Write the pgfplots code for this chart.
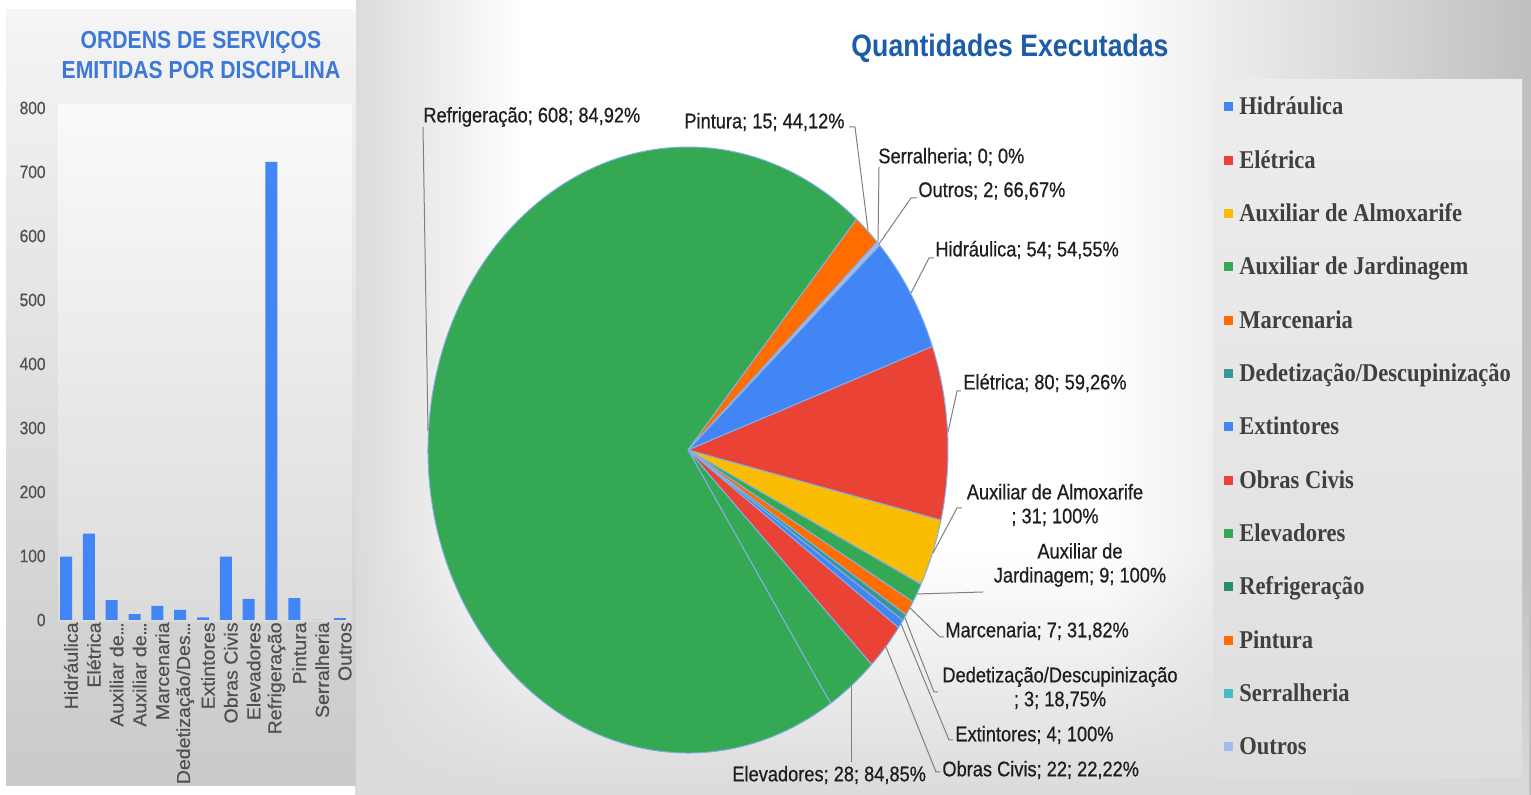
\documentclass[border=0pt]{standalone}
\usepackage{fontspec}
\setmainfont{Liberation Sans}[FakeStretch=0.86]
\newfontfamily\labfont{Liberation Sans}[FakeStretch=0.86, FakeBold=0.6]
\newfontfamily\rotfont{Liberation Sans}[FakeStretch=1.04, FakeBold=0.4]
\newfontfamily\legfont{Liberation Serif}[FakeStretch=0.88]
\usepackage{pgfplots}
\usepackage{pgfplotstable}
\pgfplotsset{compat=1.18}
\usetikzlibrary{fadings}

\definecolor{barblue}{RGB}{66,133,244}
\definecolor{ticklab}{RGB}{80,80,80}
\definecolor{titleblue}{RGB}{60,120,216}
\definecolor{titletwo}{RGB}{28,92,168}
\definecolor{labtxt}{RGB}{30,30,30}
\definecolor{leader}{RGB}{128,128,128}
\definecolor{legtxt}{RGB}{64,64,64}
\definecolor{hid}{RGB}{66,133,244}
\definecolor{ele}{RGB}{234,67,53}
\definecolor{alm}{RGB}{251,188,4}
\definecolor{jard}{RGB}{52,168,83}
\definecolor{marc}{RGB}{255,109,1}
\definecolor{dedet}{RGB}{58,150,150}
\definecolor{serr}{RGB}{70,189,198}
\definecolor{outros}{RGB}{165,185,240}
\definecolor{refleg}{RGB}{40,140,110}
\definecolor{pieedge}{RGB}{130,175,230}

\tikzfading[name=fadebottom, top color=transparent!100, bottom color=transparent!0]

% Ordens de servico emitidas por disciplina
\pgfplotstableread{
x v
0 99
1 135
2 31
3 9
4 22
5 16
6 4
7 99
8 33
9 716
10 34
11 0
12 3
}\bardata

% Quantidades executadas (pie)
\pgfplotstableread{
v col
54 hid
80 ele
31 alm
9 jard
7 marc
3 dedet
4 hid
22 ele
28 jard
608 jard
15 marc
0 serr
2 outros
}\piedata

\newcommand\tightdots{\kern-0.02em.\kern-0.08em.\kern-0.08em.}

\begin{document}
\begin{tikzpicture}
% ---------- backgrounds (pt coordinates) ----------
\fill[white] (0,0) rectangle (765.5pt,397.5pt);
\shade[left color=black!14, right color=white] (178pt,0) rectangle (262pt,397.5pt);
\shade[left color=white, right color=black!25] (550pt,0) rectangle (765.5pt,397.5pt);
\fill[black!14, path fading=fadebottom] (178pt,0) rectangle (765.5pt,120pt);
\shade[top color=black!4, bottom color=black!21] (3pt,4.5pt) rectangle (178pt,392.5pt);
\shade[top color=black!2, bottom color=black!14] (29pt,86.5pt) rectangle (176pt,345pt);
\shade[top color=black!7, bottom color=black!13] (606.5pt,8.5pt) rectangle (761pt,357.5pt);

% ---------- bar chart ----------
\begin{axis}[
  at={(27.3pt,87.5pt)}, anchor=south west,
  scale only axis, width=148.4pt, height=256pt,
  xmin=-0.5, xmax=12.5, ymin=0, ymax=800,
  enlargelimits=false, clip=false,
  axis line style={draw=none}, major tick length=0pt,
  ytick={0,100,...,800},
  xtick={0,...,12},
  xticklabels={Hidráulica,Elétrica,Auxiliar de\tightdots,Auxiliar de\tightdots,Marcenaria,Dedetização/Des\tightdots,Extintores,Obras Civis,Elevadores,Refrigeração,Pintura,Serralheria,Outros},
  xticklabel style={rotate=90, anchor=east, font=\rotfont\fontsize{9.4}{10}\selectfont, text=ticklab, inner sep=1pt, yshift=-2.5pt},
  yticklabel style={font=\labfont\fontsize{9}{10}\selectfont, text=ticklab, xshift=-1pt},
  /pgf/number format/assume math mode=true,
]
\addplot[ybar, fill=barblue, draw=none, bar width=6pt] table[x=x,y=v]{\bardata};
\end{axis}

% ---------- pie chart ----------
\pgfplotstablegetrowsof{\piedata}
\pgfmathtruncatemacro\lastrow{\pgfplotsretval-1}
\def\pietotal{0}
\pgfplotsforeachungrouped \i in {0,...,\lastrow}{%
  \pgfplotstablegetelem{\i}{v}\of{\piedata}%
  \pgfmathsetmacro\pietotal{\pietotal+\pgfplotsretval}%
}
\begin{axis}[
  at={(344pt,172.5pt)}, anchor=center,
  scale only axis, width=260pt, height=303pt,
  xmin=-1, xmax=1, ymin=-1, ymax=1,
  hide axis, clip=false,
]
\def\cum{42.5}
\pgfplotsforeachungrouped \i in {0,...,\lastrow}{%
  \pgfplotstablegetelem{\i}{v}\of{\piedata}\let\sliceval\pgfplotsretval
  \pgfplotstablegetelem{\i}{col}\of{\piedata}\let\slicecol\pgfplotsretval
  \pgfmathsetmacro\sa{\cum}%
  \pgfmathsetmacro\sb{\cum-\sliceval/\pietotal*360}%
  \ifdim\sliceval pt>0pt
    \edef\tmp{\noexpand\filldraw[fill=\slicecol, draw=pieedge, line width=0.5pt, line join=round] (axis cs:0,0) -- (axis cs:{cos(\sa)},{sin(\sa)}) arc[start angle=\sa, end angle=\sb, x radius=130pt, y radius=151.5pt] -- cycle;}%
    \tmp
  \fi
  \let\cum\sb
}
\end{axis}

% ---------- texts, leaders, legend (pixel coordinates) ----------
\begin{scope}[x=0.5pt, y=-0.5pt, shift={(0,397.5pt)}]
\node[text=titleblue, font=\fontsize{12.3}{15}\selectfont\bfseries, align=center] at (201,55) {ORDENS DE SERVIÇOS\\EMITIDAS POR DISCIPLINA};
\node[text=titletwo, font=\fontsize{15.5}{18}\selectfont\bfseries] at (1010,48) {Quantidades Executadas};

\begin{scope}[leader, line width=0.5pt]
\draw (423,127) -- (428,431);
\draw (849,127) -- (855,127) -- (868,230);
\draw (879,167) -- (878,242);
\draw (917,198) -- (911,198) -- (879,244);
\draw (934,258) -- (929,258) -- (911,293);
\draw (961,391) -- (957,391) -- (948,432);
\draw (962,508) -- (957,508) -- (933,553);
\draw (983,592) -- (917,594);
\draw (944,637) -- (940,637) -- (910,608);
\draw (938,692) -- (934,692) -- (905,618);
\draw (953,740) -- (949,740) -- (901,624);
\draw (940,772) -- (936,772) -- (886,647);
\draw (851,762) -- (851,686);
\end{scope}

\begin{scope}[every node/.style={text=labtxt, font=\labfont\fontsize{10.6}{12}\selectfont, inner sep=0pt}]
\node[anchor=west] at (423,117) {Refrigeração; 608; 84,92\%};
\node[anchor=west] at (684,122) {Pintura; 15; 44,12\%};
\node[anchor=west] at (878,157) {Serralheria; 0; 0\%};
\node[anchor=west] at (918,191) {Outros; 2; 66,67\%};
\node[anchor=west] at (935,250) {Hidráulica; 54; 54,55\%};
\node[anchor=west] at (963,383) {Elétrica; 80; 59,26\%};
\node[align=center] at (1055,505) {Auxiliar de Almoxarife\\; 31; 100\%};
\node[align=center] at (1080,565) {Auxiliar de\\Jardinagem; 9; 100\%};
\node[anchor=west] at (945,631) {Marcenaria; 7; 31,82\%};
\node[align=center] at (1060,688) {Dedetização/Descupinização\\; 3; 18,75\%};
\node[anchor=west] at (955,735) {Extintores; 4; 100\%};
\node[anchor=west] at (942,770) {Obras Civis; 22; 22,22\%};
\node[anchor=west] at (732,775) {Elevadores; 28; 84,85\%};
\end{scope}

% legend
\foreach \nm/\cl [count=\k from 0] in {Hidráulica/hid, Elétrica/ele, Auxiliar de Almoxarife/alm, Auxiliar de Jardinagem/jard, Marcenaria/marc, {Dedetização/Descupinização}/dedet, Extintores/hid, Obras Civis/ele, Elevadores/jard, Refrigeração/refleg, Pintura/marc, Serralheria/serr, Outros/outros}{
  \pgfmathsetmacro\yy{107+53.33*\k}
  \fill[\cl] (1224,\yy-4.5) rectangle (1233,\yy+4.5);
  \node[anchor=base west, inner sep=0pt, text=legtxt, font=\legfont\fontsize{12.8}{14}\selectfont\bfseries] at (1239,\yy+8) {\nm};
}
\end{scope}

\pgfresetboundingbox
\path (0,0) rectangle (765.5pt,397.5pt);
\end{tikzpicture}
\end{document}
